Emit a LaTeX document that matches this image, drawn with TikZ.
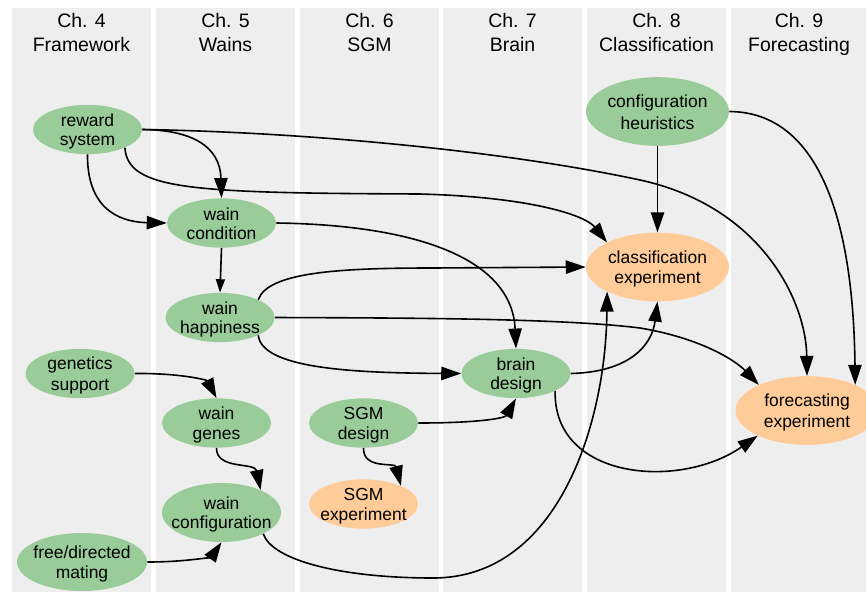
\documentclass[tikz,border=0pt]{standalone}
\usepackage{fontspec}
\setmainfont{Liberation Sans}
\usetikzlibrary{shapes.geometric,arrows.meta}
\definecolor{lane}{HTML}{EEEEEE}
\definecolor{topic}{HTML}{99CC99}
\definecolor{expt}{HTML}{FFCC99}
% struts keep the two text lines of every node at fixed baselines
\newcommand\nodestrut{\rule[-2pt]{0pt}{14.3pt}}
\newcommand\headstrut{\rule[-3pt]{0pt}{17pt}}
\newcommand\twolines[2]{\nodestrut#1\\\nodestrut#2}
\newcommand\headlines[2]{\headstrut#1\\\headstrut#2}

\begin{document}
\begin{tikzpicture}[x=0.75pt,y=-0.75pt,
  lanebox/.style={fill=lane,draw=none},
  heading/.style={align=center,inner sep=0pt,font=\fontsize{14.6pt}{16.5pt}\selectfont},
  nodetext/.style={align=center,inner sep=0pt,font=\fontsize{13.1pt}{14.8pt}\selectfont},
  % the ellipse keeps its own size; its two text lines sit in a centred label
  topicnode/.style 2 args={ellipse,fill=topic,draw=none,inner sep=0pt,
    minimum width=81.75pt,minimum height=37pt,
    label={[nodetext]center:\twolines{#1}{#2}}},
  exptnode/.style 2 args={topicnode={#1}{#2},fill=expt},
  bignode/.style={minimum width=107.25pt,minimum height=51.5pt},
  edge/.style={line width=1.2pt,-{Triangle[length=15pt,width=10pt]}},
  shortedge/.style={line width=1.2pt,-{Triangle[length=10pt,width=6.75pt]}}]

% page and chapter lanes
\fill[white] (0,0) rectangle (866,592);
\useasboundingbox (0,0) rectangle (866,592);
\fill[lanebox] (12,8) rectangle (151,592);
\fill[lanebox] (156,8) rectangle (295,592);
\fill[lanebox] (300,8) rectangle (439,592);
\fill[lanebox] (443,8) rectangle (582,592);
\fill[lanebox] (587,8) rectangle (726,592);
\fill[lanebox] (731,8) rectangle (866,592);

% chapter headings
\node[heading] (h4) at (81.5,31.7) {\headlines{Ch. 4}{Framework}};
\node[heading] (h5) at (225.5,31.7) {\headlines{Ch. 5}{Wains}};
\node[heading] (h6) at (369.5,31.7) {\headlines{Ch. 6}{SGM}};
\node[heading] (h7) at (512.5,31.7) {\headlines{Ch. 7}{Brain}};
\node[heading] (h8) at (656.5,31.7) {\headlines{Ch. 8}{Classification}};
\node[heading] (h9) at (799,31.7) {\headlines{Ch. 9}{Forecasting}};

% topics
\node[topicnode={reward}{system}] (rs) at (87.5,129.5) {};
\node[topicnode={wain}{condition}] (wc) at (221.5,223) {};
\node[topicnode={wain}{happiness}] (wh) at (220,317.5) {};
\node[topicnode={genetics}{support}] (gs) at (80,373.5) {};
\node[topicnode={wain}{genes}] (wg) at (216.5,423) {};
\node[topicnode={wain}{configuration},minimum width=89.25pt,minimum height=44.25pt] (wcfg) at (221.5,512.5) {};
\node[topicnode={free/directed}{mating},minimum width=97.5pt,minimum height=43.5pt] (fdm) at (82,562) {};
\node[topicnode={SGM}{design}] (sd) at (363.5,423) {};
\node[exptnode={SGM}{experiment}] (se) at (363.5,504) {};
\node[topicnode={brain}{design}] (bd) at (516,373.5) {};
\node[topicnode={configuration}{heuristics},bignode] (ch) at (657.5,111.5) {};
\node[exptnode={classification}{experiment},bignode] (ce) at (657.5,267) {};
\node[exptnode={forecasting}{experiment},bignode] (fe) at (807,410.5) {};

% dependencies
\draw[edge] (rs.east) .. controls (190,130) and (220,145) .. (wc.north);
\draw[edge] (rs.south) .. controls (87,205) and (115,222) .. (wc.west);
\draw[edge] (rs.-26) .. controls (128,190) and (190,193) .. (420,194)
  .. controls (530,197) and (585,215) .. (ce.154);
\draw[edge] (rs.east) .. controls (300,132) and (500,150) .. (640,180)
  .. controls (760,206) and (806,300) .. (fe.north);
\draw[edge] (ch.south) -- (ce.north);
\draw[edge] (ch.east) .. controls (810,112) and (853,200) .. (fe.28);
\draw[shortedge] (wc.south) -- (wh.north);
\draw[edge] (wc.east) .. controls (420,225) and (512,260) .. (bd.north);
\draw[edge] (wh.25) .. controls (268,272) and (340,268) .. (433,268) -- (ce.west);
\draw[edge] (wh.east) .. controls (400,318) and (560,318) .. (640,328)
  .. controls (700,338) and (735,360) .. (fe.152);
\draw[edge] (wh.-25) .. controls (262,368) and (350,373) .. (bd.west);
\draw[edge] (gs.east) .. controls (180,373) and (207,380) .. (wg.north);
\draw[edge] (wg.south) .. controls (216,470) and (255,462) .. (wcfg.30);
\draw[edge] (fdm.east) .. controls (190,562) and (212,556) .. (wcfg.south);
\draw[edge] (wcfg.-27) .. controls (272,560) and (340,578) .. (433,578)
  .. controls (560,578) and (606,420) .. (ce.206);
\draw[edge] (sd.east) .. controls (480,423) and (505,418) .. (bd.south);
\draw[edge] (sd.south) .. controls (363,470) and (395,462) .. (se.26);
\draw[edge] (bd.east) .. controls (630,372) and (652,345) .. (ce.south);
\draw[edge] (bd.-24) .. controls (553,480) and (680,490) .. (fe.207);
\end{tikzpicture}
\end{document}
